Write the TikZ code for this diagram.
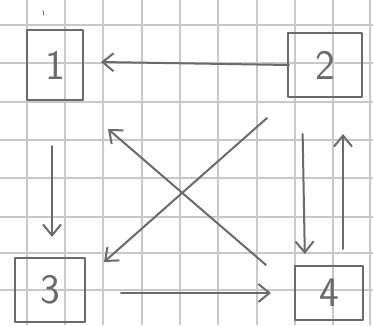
\documentclass[tikz,border=0pt]{standalone}
\usetikzlibrary{arrows.meta}
\definecolor{pen}{HTML}{6A6A6A}
\definecolor{gridc}{HTML}{C8C8C8}
\begin{document}
\begin{tikzpicture}[x=1pt,y=-1pt,
  gridline/.style={draw=gridc,line width=1.2pt},
  box/.style={draw=pen,line width=2pt,rectangle,inner sep=0pt,text=pen,
    font=\sffamily\fontsize{42}{42}\selectfont,line join=round},
  link/.style={draw=pen,line width=2pt,line cap=round,
    -{Straight Barb[length=11pt,width=18pt,line width=2pt]}}]
\useasboundingbox[fill=white] (0,0) rectangle (373,325);
% grid paper
\foreach \gx in {27,65,103,142,180,218,257,295,333,370}
  \draw[gridline] (\gx,0) -- (\gx,325);
\foreach \gy in {25,63,102,140,178,217,253,290}
  \draw[gridline] (0,\gy) -- (373,\gy);
% stray pen mark
\draw[pen,line width=0.8pt] (43,10) -- (43.6,15);
% boxes
\node[box,minimum width=56pt,minimum height=70pt] (n1) at (55,65) {1};
\node[box,minimum width=74pt,minimum height=64pt] (n2) at (325,65) {2};
\node[box,minimum width=70pt,minimum height=64pt] (n3) at (50,290) {3};
\node[box,minimum width=68pt,minimum height=54pt] (n4) at (329,293) {4};
% connectors
\draw[link] ([xshift=2pt]n2.west) -- ([xshift=17pt,yshift=3pt]n1.east);
\draw[link,shorten <=45pt,shorten >=20pt] ([xshift=-3pt]n1.south) -- ([xshift=2pt]n3.north);
\draw[link,shorten <=35pt,shorten >=23pt] ([yshift=-3pt]n3.east) -- (n4.west);
\draw[link,shorten <=36pt,shorten >=11pt] ([xshift=-23pt]n2.south) -- ([xshift=-24pt]n4.north);
\draw[link,shorten <=16pt,shorten >=36pt] ([xshift=14pt]n4.north) -- ([xshift=18pt]n2.south);
\draw[link] ([xshift=-28pt]n4.north west) -- ([xshift=24pt,yshift=-28pt]n1.south east);
\draw[link] ([xshift=-20pt,yshift=-20pt]n2.south west) -- ([xshift=18pt,yshift=-5pt]n3.north east);
\end{tikzpicture}
\end{document}
